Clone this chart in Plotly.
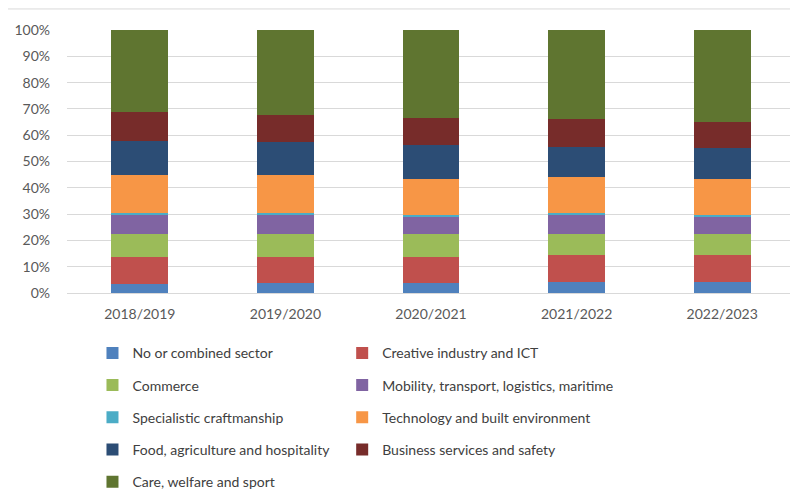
import plotly.graph_objects as go

years = ["2018/2019", "2019/2020", "2020/2021", "2021/2022", "2022/2023"]

sectors = [
    "No or combined sector",
    "Creative industry and ICT",
    "Commerce",
    "Mobility, transport, logistics, maritime",
    "Specialistic craftmanship",
    "Technology and built environment",
    "Food, agriculture and hospitality",
    "Business services and safety",
    "Care, welfare and sport",
]

# shares in percent, one list per sector
no_combined = [3.4, 3.8, 3.8, 4.3, 4.3]
creative_ict = [10.3, 9.9, 9.9, 10.0, 10.0]
commerce = [8.9, 8.9, 8.9, 8.3, 8.3]
mobility = [7.2, 7.1, 6.6, 7.1, 6.6]
craftmanship = [0.5, 0.6, 0.6, 0.6, 0.6]
technology = [14.4, 14.4, 13.7, 13.9, 13.7]
food_hospitality = [13.2, 12.6, 12.7, 11.4, 11.6]
business_services = [11.1, 10.5, 10.5, 10.5, 10.0]
care_welfare = [31.0, 32.2, 33.2, 33.8, 34.8]

series = [no_combined, creative_ict, commerce, mobility, craftmanship,
          technology, food_hospitality, business_services, care_welfare]
colors = ["#4f81bd", "#c0504d", "#9bbb59", "#8064a2", "#4bacc6",
          "#f79646", "#2c4d75", "#772c2a", "#5f7530"]

FONT = "Lato, Calibri, sans-serif"

fig = go.Figure()
for i, (name, vals, col) in enumerate(zip(sectors, series, colors)):
    fig.add_trace(go.Bar(
        x=years, y=[v / 100 for v in vals], name=name,
        marker=dict(color=col, line=dict(width=0)),
        legend="legend" if i % 2 == 0 else "legend2",
        legendgroup=name,
    ))

# two vertical legends side by side, mimicking the 2-column Excel legend
legend_style = dict(
    orientation="v", traceorder="grouped", tracegroupgap=11,
    font=dict(family=FONT, size=14, color="#404040"),
    bgcolor="rgba(0,0,0,0)", yanchor="top", xanchor="left",
    yref="container", itemwidth=30,
)

# page body has an 8px margin, so the figure is a bit smaller than the window
fig.update_layout(
    barmode="stack", bargap=0.61,
    width=790, height=485,
    margin=dict(l=59, r=3, t=22, b=200, autoexpand=False),
    plot_bgcolor="white", paper_bgcolor="white",
    font=dict(family=FONT, size=14, color="#595959"),
    showlegend=True,
    legend=dict(x=0.035, y=0.321, **legend_style),
    legend2=dict(x=0.378, y=0.321, **legend_style),
    xaxis=dict(showline=True, linecolor="#d9d9d9", linewidth=1,
               ticks="", tickfont=dict(size=14, color="#595959"),
               ticklabelstandoff=8),
    yaxis=dict(range=[0, 1], tickformat=".0%", dtick=0.1,
               showgrid=True, gridcolor="#d9d9d9", gridwidth=1,
               zeroline=False, tickfont=dict(size=14, color="#595959"),
               ticklabelstandoff=16),
    shapes=[dict(type="line", xref="paper", yref="paper",
                 x0=-0.092, x1=1.004, y0=1.08, y1=1.08,
                 line=dict(color="#d9d9d9", width=1))],
)

fig.write_html("out.html")
